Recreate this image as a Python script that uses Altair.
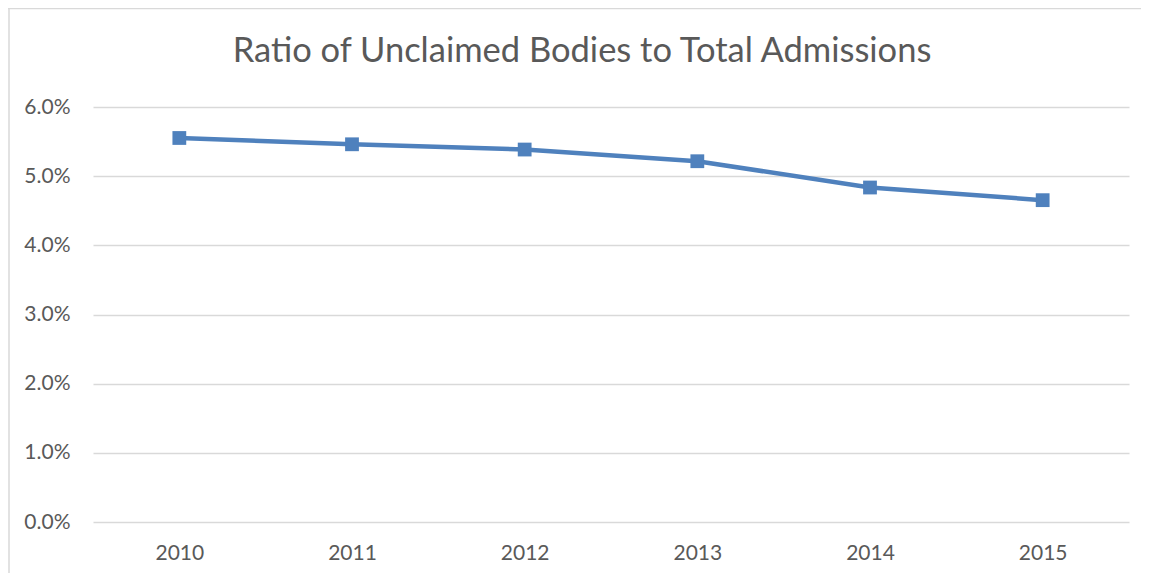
import altair as alt
import pandas as pd

years = ["2010", "2011", "2012", "2013", "2014", "2015"]
ratios = [0.05552, 0.05461, 0.05385, 0.05216, 0.04836, 0.04653]
y_ticks = [0.0, 0.01, 0.02, 0.03, 0.04, 0.05, 0.06]
title_text = "Ratio of Unclaimed Bodies to Total Admissions"

df = pd.DataFrame({"year": years, "ratio": ratios})

FONT = "Lato"
GREY = "#595959"
GRID = "#d9d9d9"

x_enc = alt.X("year:O", title=None, sort=years,
              scale=alt.Scale(paddingInner=0, paddingOuter=0.5),
              axis=alt.Axis(labelAngle=0, labelFontSize=21, labelColor=GREY, labelFont=FONT,
                            ticks=False, domain=False, labelPadding=20, grid=False))
y_enc = alt.Y("ratio:Q", title=None,
              scale=alt.Scale(domain=[0, 0.06], nice=False),
              axis=alt.Axis(values=y_ticks, format=".1%", labelFontSize=21, labelColor=GREY,
                            labelFont=FONT, ticks=False, domain=False, labelPadding=23,
                            gridColor=GRID, gridWidth=1.3))

one = pd.DataFrame({"t": [title_text]})

left_border = alt.Chart(one).mark_rule(stroke=GRID, strokeWidth=1.5).encode(
    x=alt.value(-84), y=alt.value(-99), y2=alt.value(470))
top_border = alt.Chart(one).mark_rule(stroke=GRID, strokeWidth=1.5).encode(
    y=alt.value(-98.5), x=alt.value(-85), x2=alt.value(1060))

title = alt.Chart(one).mark_text(
    fontSize=34.5, font=FONT, color=GREY, align="center", baseline="middle"
).encode(x=alt.value(489), y=alt.value(-55), text="t:N")

line = alt.Chart(df).mark_line(color="#4F81BD", strokeWidth=4.5).encode(x=x_enc, y=y_enc)
pts = alt.Chart(df).mark_square(color="#4F81BD", size=190, opacity=1).encode(x=x_enc, y=y_enc)

chart = alt.layer(left_border, top_border, line, pts, title).properties(
    width=1036, height=415,
    background="white",
    autosize=alt.AutoSizeParams(type="none"),
    padding={"left": 85, "top": 99, "right": 12, "bottom": 51},
).configure_view(stroke=None)

chart.save("out.html", embed_options={"renderer": "svg", "actions": False})
